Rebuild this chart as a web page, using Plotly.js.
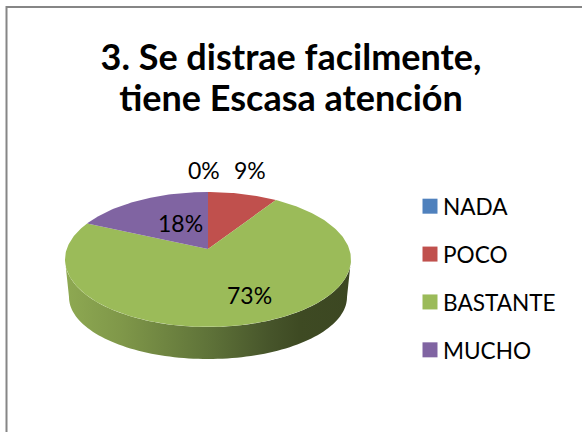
<!DOCTYPE html>
<html>
<head>
<meta charset="utf-8">
<script src="https://cdn.plot.ly/plotly-3.0.1.min.js"></script>
<style>html,body{margin:0;padding:0;background:#fff}#chart{width:582px;height:432px}</style>
</head>
<body>
<div id="chart"></div>
<script>
// Data (11 responses: shown as 0%, 9%, 18%, 73%)
var categories = ["NADA", "POCO", "BASTANTE", "MUCHO"];
var counts = [0, 1, 8, 2];
var sliceColors = ["#4F81BD", "#C0504D", "#9BBB59", "#8064A2"];
var chartTitle = "3. Se distrae facilmente,<br>tiene Escasa atención";

// Projection of the tilted disc, in pixel-scaled axis units
var apex = {x: 208, y: 249};
var rim = {cx: 208, cy: 259.5, rx: 143, ry: 67.5};
var base = {cx: 208, cy: 297, rx: 139, ry: 62};
var squash = 2.16;
var fontName = "Lato, Carlito, sans-serif";
// Label anchor for each category
var labelAnchor = [[203.5, 170], [249.5, 170], [249, 295], [180, 223]];

function rimPoint(deg) {
  var th = deg * Math.PI / 180, dx = Math.sin(th), dy = -Math.cos(th) / squash;
  var oy = apex.y - rim.cy;
  var a = dx * dx / (rim.rx * rim.rx) + dy * dy / (rim.ry * rim.ry);
  var b = 2 * oy * dy / (rim.ry * rim.ry);
  var c = oy * oy / (rim.ry * rim.ry) - 1;
  var t = (-b + Math.sqrt(b * b - 4 * a * c)) / (2 * a);
  return [apex.x + t * dx, apex.y + t * dy];
}

var total = counts.reduce(function (s, v) { return s + v; }, 0);
var traces = [];

// Side wall, visible under the large slice
var wx = [], wy = [], i;
for (i = 0; i <= 180; i += 2) {
  var p = i * Math.PI / 180;
  wx.push(rim.cx - rim.rx * Math.cos(p));
  wy.push(rim.cy + rim.ry * Math.sin(p));
}
for (i = 180; i >= 0; i -= 2) {
  var q = i * Math.PI / 180;
  wx.push(base.cx - base.rx * Math.cos(q));
  wy.push(base.cy + base.ry * Math.sin(q));
}
traces.push({
  type: "scatter", mode: "none", x: wx, y: wy, fill: "toself",
  fillgradient: {
    type: "horizontal",
    colorscale: [[0, "#8EA952"], [0.2, "#7F9749"], [0.5, "#5F7339"], [0.72, "#46542A"], [0.82, "#3E4A23"], [1, "#3C4722"]]
  },
  showlegend: false, hoverinfo: "skip"
});

// Slices, clockwise from 12 o'clock
var start = 0;
categories.forEach(function (name, k) {
  var sweep = counts[k] / total * 360, xs = [apex.x], ys = [apex.y], d;
  if (sweep > 0) {
    for (d = 0; d <= Math.ceil(sweep); d++) {
      var pt = rimPoint(start + Math.min(d, sweep));
      xs.push(pt[0]); ys.push(pt[1]);
    }
    xs.push(apex.x); ys.push(apex.y);
    traces.push({
      type: "scatter", mode: "lines", x: xs, y: ys, fill: "toself",
      fillcolor: sliceColors[k], line: {width: 0, color: sliceColors[k]},
      name: name, showlegend: false, hoverinfo: "name"
    });
  }
  start += sweep;
});

// Legend entries
categories.forEach(function (name, k) {
  traces.push({
    type: "scatter", mode: "markers", x: [null], y: [null], name: name,
    legendgroup: name,
    marker: {symbol: "square", size: 15, color: sliceColors[k]}
  });
});

var annotations = categories.map(function (name, k) {
  return {
    x: labelAnchor[k][0], y: labelAnchor[k][1], xref: "x", yref: "y",
    text: Math.round(counts[k] / total * 100) + "%", showarrow: false,
    font: {family: fontName, size: 23, color: "#000"}
  };
});

var layout = {
  width: 582, height: 432,
  margin: {l: 0, r: 0, t: 0, b: 0},
  paper_bgcolor: "#fff", plot_bgcolor: "#fff",
  title: {
    text: chartTitle, x: 0.5, xanchor: "center",
    y: 0.837, yanchor: "bottom", yref: "container",
    font: {family: fontName, size: 36, color: "#000", weight: 700}
  },
  xaxis: {range: [0, 582], visible: false, fixedrange: true},
  yaxis: {range: [432, 0], visible: false, fixedrange: true},
  showlegend: true,
  legend: {
    x: 410 / 582, xanchor: "left", y: 1 - 185 / 432, yanchor: "top",
    font: {family: fontName, size: 22.6, color: "#000"},
    tracegroupgap: 15.5, itemclick: false, itemdoubleclick: false,
    bgcolor: "rgba(0,0,0,0)"
  },
  annotations: annotations,
  shapes: [{
    type: "path", xref: "x", yref: "y",
    path: "M 6.5 432 L 6.5 7 L 582 7",
    line: {color: "#868686", width: 2}
  }]
};

Plotly.newPlot("chart", traces, layout, {displayModeBar: false}).then(function (gd) {
  // Tighter swatch-to-text gap in the legend
  gd.querySelectorAll(".legend .legendtext").forEach(function (t) {
    t.setAttribute("x", parseFloat(t.getAttribute("x")) - 7);
    t.querySelectorAll("tspan").forEach(function (s) {
      if (s.getAttribute("x")) s.setAttribute("x", parseFloat(s.getAttribute("x")) - 7);
    });
  });
  // Tighter line spacing in the two-line title
  var lines = gd.querySelectorAll(".gtitle tspan.line");
  if (lines.length > 1) lines[1].setAttribute("dy", "41");
});
</script>
</body>
</html>
